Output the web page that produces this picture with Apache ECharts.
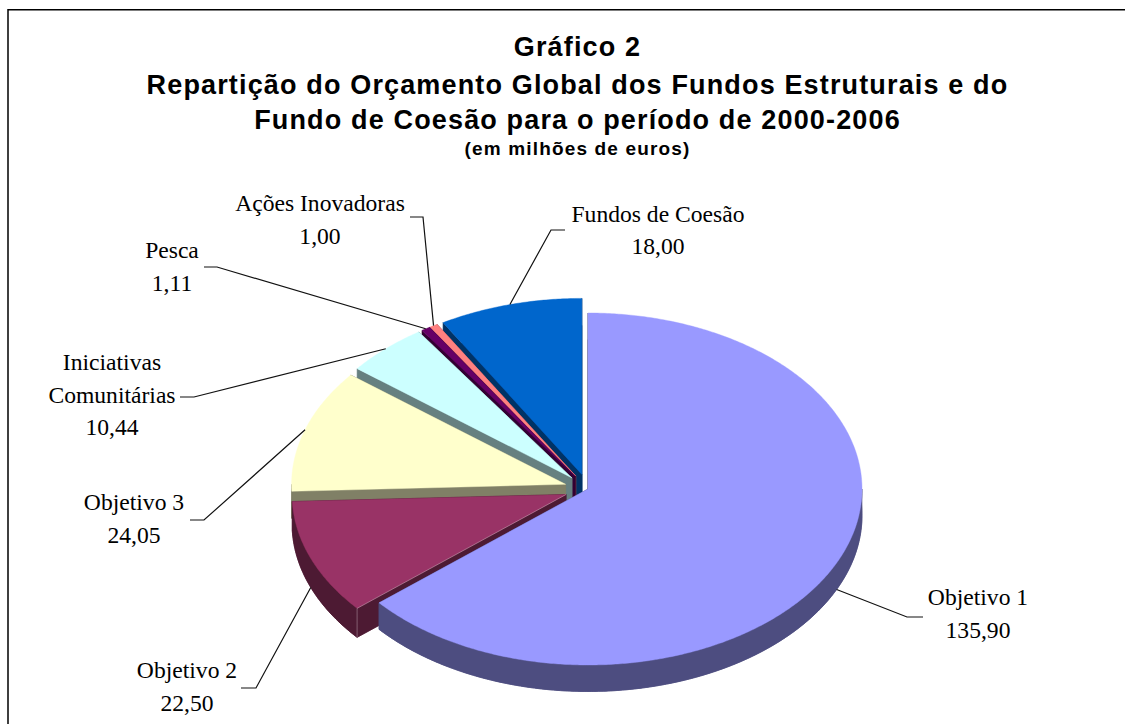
<!DOCTYPE html>
<html>
<head>
<meta charset="utf-8">
<style>html,body{margin:0;padding:0;background:#fff}#c{width:1125px;height:724px}
text[style*="bold"]{letter-spacing:1.15px}
</style>
<script src="https://cdn.jsdelivr.net/npm/echarts@6/dist/echarts.min.js"></script>
</head>
<body>
<div id="c"></div>
<script>
var categories = ['Objetivo 1','Objetivo 2','Objetivo 3','Iniciativas\nComunitárias','Pesca','Ações Inovadoras','Fundos de Coesão'];
var values = [135.90,22.50,24.05,10.44,1.11,1.00,18.00];
var valueLabels = ['135,90','22,50','24,05','10,44','1,11','1,00','18,00'];
var topColors = ['#9999FF','#993366','#FFFFCC','#CCFFFF','#660066','#FF8080','#0066CC'];
var wallColors = ['#4D4D80','#4D1A33','#808066','#668080','#330033','#804040','#003366'];
var exploded = [0,1,1,1,1,1,1];
var titleLines = ['Gráfico 2','Repartição do Orçamento Global dos Fundos Estruturais e do','Fundo de Coesão para o período de 2000-2006','(em milhões de euros)'];

// layout
var CX=588, CY=489, RX=274, RY=176, EXPLODE=0.086;
var depths=[26.5,29,27,27,27,27,27];
var edgeHighlight=[false,true,false,false,false,false,false];
// label centre, first line y, leader elbow and leader end
var labelPos = [[978,597],[187,670],[134,502],[112,362],[172,250],[320,203],[658,213.5]];
var elbows = [[[907,617],[923,617]],[[256,688],[241,688]],[[204,520],[190,520]],[[194,397],[180,397]],[[217,267],[204,267]],[[423,217],[410,217]],[[551,230],[565,230]]];
var LINE_H=32.5, LABEL_FONT=23.6;

var total = values.reduce(function(a,b){return a+b;},0);
var rad = Math.PI/180;
function startAngle(i){var s=0;for(var k=0;k<i;k++)s+=values[k];return s/total*360;}
function center(i){
  var a0=startAngle(i), a1=a0+values[i]/total*360, m=(a0+a1)/2*rad, e=exploded[i]*EXPLODE;
  return {x:CX+e*RX*Math.sin(m), y:CY-e*RY*Math.cos(m), a0:a0, a1:a1, mid:m};
}
function pt(c,deg,dy){return [c.x+RX*Math.sin(deg*rad), c.y-RY*Math.cos(deg*rad)+(dy||0)];}
function arc(c,a0,a1,dy){var p=[],n=Math.max(2,Math.ceil((a1-a0)*2));for(var k=0;k<=n;k++)p.push(pt(c,a0+(a1-a0)*k/n,dy));return p;}

function renderItem(params,api){
  var i=params.dataIndex, c=center(i), z=Math.round((1-Math.cos(c.mid))*100)+10, D=depths[i];
  var wall={fill:wallColors[i],stroke:wallColors[i],lineWidth:0.6};
  var kids=[];
  function poly(points,style,zz){kids.push({type:'polygon',shape:{points:points},style:style,z2:zz,silent:true});}
  var apex=[c.x,c.y], apexB=[c.x,c.y+D];
  var s0=pt(c,c.a0), s1=pt(c,c.a1);
  poly([apexB].concat(arc(c,c.a0,c.a1,D)),wall,z);
  poly([apex,s0,pt(c,c.a0,D),apexB],wall,z);
  poly([apex,s1,pt(c,c.a1,D),apexB],wall,z);
  var f0=Math.max(c.a0,90), f1=Math.min(c.a1,270);
  if(f1>f0) poly(arc(c,f0,f1,0).concat(arc(c,f0,f1,D).reverse()),wall,z);
  poly([apex].concat(arc(c,c.a0,c.a1,0)),{fill:topColors[i],stroke:topColors[i],lineWidth:0.4},z+1);
  if(edgeHighlight[i]){
    kids.push({type:'polyline',shape:{points:[apex,s0,pt(c,c.a0,D)]},style:{stroke:'rgba(255,255,255,0.4)',lineWidth:0.8,fill:null},z2:z+2,silent:true});
  }
  // leader
  var midDeg=c.mid/rad, anchor=pt(c,midDeg,Math.cos(c.mid)<0?D:0);
  kids.push({type:'polyline',shape:{points:[anchor].concat(elbows[i])},style:{stroke:'#111',lineWidth:1.2,fill:null},z2:500,silent:true});
  kids.push({type:'text',z2:600,silent:true,style:{
    text:categories[i]+'\n'+valueLabels[i],x:labelPos[i][0],y:labelPos[i][1]-LINE_H/2,
    align:'center',verticalAlign:'top',fontFamily:'Liberation Serif',fontSize:LABEL_FONT,lineHeight:LINE_H,fill:'#000'}});
  return {type:'group',children:kids};
}

var chart=echarts.init(document.getElementById('c'),null,{renderer:'svg'});
function titleItem(t,top,size){return {text:t,left:572.5,top:top,textAlign:'center',textStyle:{fontFamily:'Liberation Sans',fontWeight:'bold',fontSize:size,color:'#000'}};}
chart.setOption({
  animation:false,
  backgroundColor:'#fff',
  title:[titleItem(titleLines[0],28,27),titleItem(titleLines[1],66.5,27),titleItem(titleLines[2],101,27),titleItem(titleLines[3],133.5,19)],
  graphic:[{type:'rect',shape:{x:8,y:9.75,width:1130,height:730},style:{fill:null,stroke:'#000',lineWidth:1.5}}],
  series:[{type:'custom',coordinateSystem:'none',renderItem:renderItem,clip:false,
    data:values.map(function(v,i){return {name:categories[i],value:v};})}]
});
</script>
</body>
</html>
